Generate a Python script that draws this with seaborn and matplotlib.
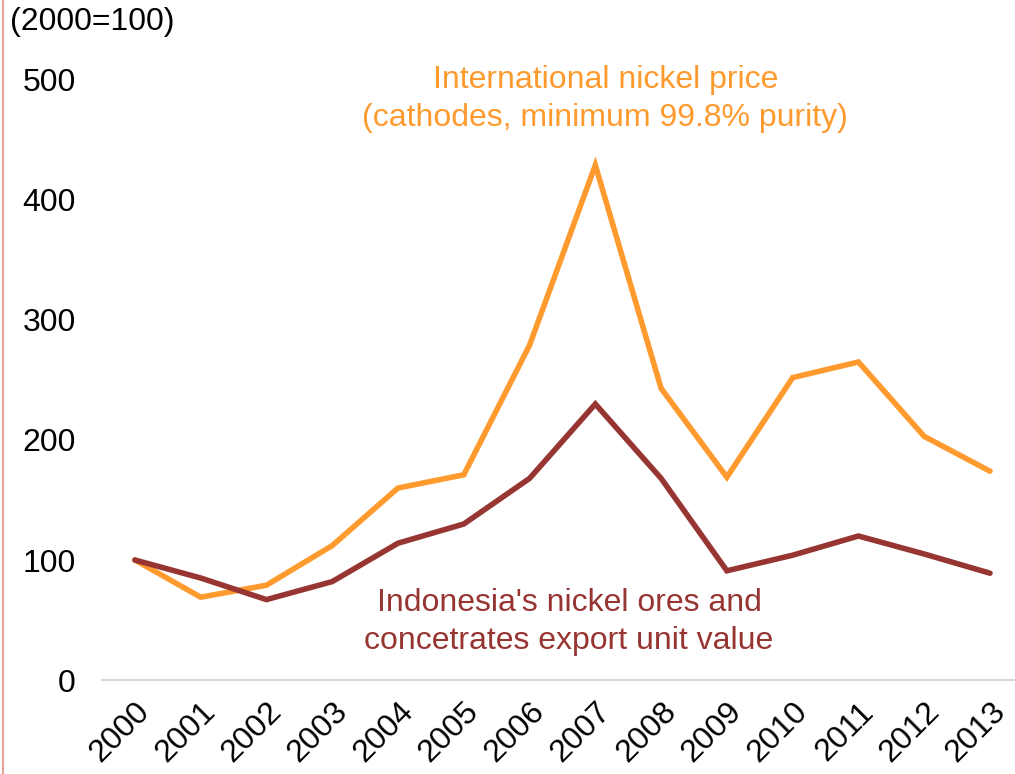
import matplotlib
matplotlib.use("Agg")
import matplotlib.pyplot as plt
from matplotlib.lines import Line2D
import seaborn as sns
import pandas as pd

years = ["2000", "2001", "2002", "2003", "2004", "2005", "2006",
         "2007", "2008", "2009", "2010", "2011", "2012", "2013"]
intl_price = [100, 69, 79, 112, 160, 171, 279, 429, 243, 169, 252, 265, 203, 174]
indo_unit_value = [100, 85, 67, 82, 114, 130, 168, 230, 168, 91, 104, 120, 105, 89]
series_names = ["International nickel price", "Indonesia export unit value"]
yticks = [0, 100, 200, 300, 400, 500]

ORANGE = "#FF9A2E"
DARKRED = "#973533"
FS = 23

sns.set_theme(style="white")
plt.rcParams["font.family"] = ["Liberation Sans", "DejaVu Sans"]

n = len(years)
df = pd.DataFrame({
    "x": list(range(n)) * 2,
    "value": intl_price + indo_unit_value,
    "series": [series_names[0]] * n + [series_names[1]] * n,
})

fig = plt.figure(figsize=(10.15, 7.74), dpi=100)
ax = fig.add_axes([102 / 1015, 1 - 680 / 774, (1015 - 102) / 1015, 600 / 774])

sns.lineplot(data=df, x="x", y="value", hue="series",
             palette={series_names[0]: ORANGE, series_names[1]: DARKRED},
             linewidth=4.0, legend=False, ax=ax, sort=False)
for line in ax.lines:
    line.set_solid_joinstyle("miter")
    line.set_solid_capstyle("round")

ax.set_xlim(-0.5, 13.38)
ax.set_ylim(0, 500)
ax.set_xticks(range(n))
ax.set_xticklabels(years, rotation=45, ha="right", va="top",
                   rotation_mode="anchor", fontsize=FS, color="black")
ax.set_yticks(yticks)
ax.set_yticklabels([str(v) for v in yticks], fontsize=FS, color="black")
ax.tick_params(axis="y", length=0, pad=19)
ax.tick_params(axis="x", length=0, pad=12)
ax.set_xlabel("")
ax.set_ylabel("")

for side in ["top", "right", "left"]:
    ax.spines[side].set_visible(False)
ax.spines["bottom"].set_color("#D9D9D9")
ax.spines["bottom"].set_linewidth(1.5)

ax.text(7.15, 484, "International nickel price\n(cathodes, minimum 99.8% purity)",
        ha="center", va="center", fontsize=FS, color=ORANGE, linespacing=1.35)
ax.text(6.6, 48, "Indonesia's nickel ores and\nconcetrates export unit value",
        ha="center", va="center", fontsize=FS, color=DARKRED, linespacing=1.35)

fig.text(10 / 1015, 1 - 22 / 774, "(2000=100)", ha="left", va="center",
         fontsize=FS, color="black")

fig.add_artist(Line2D([3 / 1015, 3 / 1015], [0, 1], transform=fig.transFigure,
                      color="#E9A294", linewidth=1.5))

fig.savefig("out.png", dpi=100)
